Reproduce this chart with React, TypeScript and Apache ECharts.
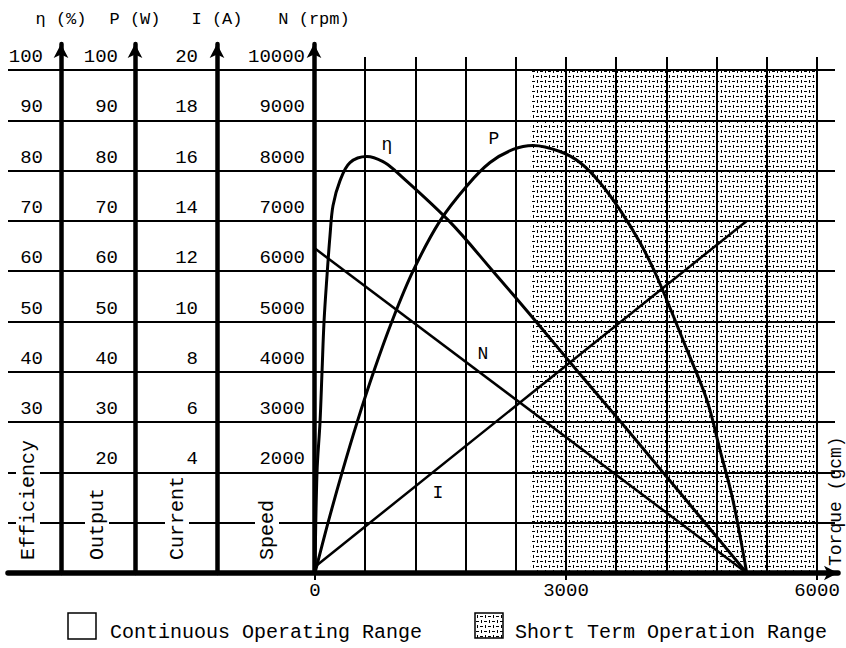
import React, { useEffect, useRef } from "react";
import * as echarts from "echarts";

// ---- data ----
const torqueLabels = [0, 3000, 6000];
const efficiencyLabels = [30, 40, 50, 60, 70, 80, 90, 100];
const outputLabels = [20, 30, 40, 50, 60, 70, 80, 90, 100];
const currentLabels = [4, 6, 8, 10, 12, 14, 16, 18, 20];
const speedLabels = [2000, 3000, 4000, 5000, 6000, 7000, 8000, 9000, 10000];

// torque (gcm), efficiency (%)
const efficiency: [number, number][] = [
  [0, 0], [24, 20], [60, 30], [84, 40], [108, 50], [143, 59], [179, 67],
  [215, 73], [299, 78], [418, 81.6], [621, 82.8], [813, 81.8], [956, 80],
  [1601, 70], [2127, 60], [2641, 50], [3143, 40], [3657, 30], [4159, 20],
  [4661, 10], [5160, 0],
];
// torque (gcm), output (W)
const output: [number, number][] = [
  [0, 0], [156, 10], [324, 20], [504, 30], [701, 40], [919, 50], [1171, 60],
  [1494, 70], [1817, 77], [2092, 81.6], [2367, 84.2], [2606, 85], [2928, 83.8],
  [3167, 81.6], [3406, 77.6], [3645, 72.2], [3884, 65.7], [4087, 58.9],
  [4445, 44.4], [4684, 34.4], [4840, 24.5], [4995, 14.5], [5160, 0],
];
// torque (gcm), current (A)
const current: [number, number][] = [[0, 0.25], [5160, 14]];
// torque (gcm), speed (rpm)
const speed: [number, number][] = [[0, 6450], [5160, 0]];
// short term operation range (gcm)
const shortTermRange = [2580, 6000];

// curve name annotations [torque, value]
const etaLabelAt = [860, 85];
const powerLabelAt = [2139, 86.2];
const speedLabelAt = [2008, 4358];
const currentLabelAt = [1470, 3.2];

const FONT = '"Liberation Mono", "DejaVu Sans Mono", monospace';

function makePattern(): string {
  const c = document.createElement("canvas");
  c.width = 8;
  c.height = 10;
  const ctx = c.getContext("2d")!;
  ctx.fillStyle = "#000";
  // row A: vertical dash, horizontal dash
  ctx.fillRect(1, 0, 1, 3);
  ctx.fillRect(4, 1, 3, 1);
  // row B: horizontal dash, vertical dash
  ctx.fillRect(0, 6, 3, 1);
  ctx.fillRect(5, 5, 1, 3);
  return c.toDataURL();
}

export default function App() {
  const ref = useRef<HTMLDivElement>(null);

  useEffect(() => {
    document.body.style.margin = "0";
    const chart = echarts.init(ref.current!, null, { renderer: "svg" });
    const patternUrl = makePattern();
    const pattern: any = { image: patternUrl, repeat: "repeat", imageWidth: 8, imageHeight: 10 };

    const hidden = {
      axisLine: { show: false, onZero: false },
      axisTick: { show: false },
      axisLabel: { show: false },
      splitLine: { show: false },
    };
    const rule = { show: true, lineStyle: { color: "#000", width: 2 } };
    const tickText = { fontFamily: FONT, fontSize: 19, color: "#000" };
    const plain = (v: number) => String(v);

    const labelAxis = (max: number, interval: number, offset: number, margin: number, values: number[]) => ({
      type: "value",
      gridIndex: 0,
      position: "left",
      offset,
      min: 0,
      max,
      interval,
      axisLine: { show: false, onZero: false },
      axisTick: { show: false },
      splitLine: { show: false },
      axisLabel: {
        customValues: values,
        formatter: plain,
        margin,
        ...tickText,
        verticalAlign: "bottom",
        lineHeight: 26,
      },
    });

    const arrowAxis = (name: string, offset: number) => ({
      type: "value",
      gridIndex: 3,
      position: "left",
      offset,
      min: 0,
      max: 1,
      name,
      nameLocation: "end",
      nameGap: 16,
      nameTextStyle: { fontFamily: FONT, fontSize: 17, color: "#000" },
      axisLine: {
        show: true,
        onZero: false,
        symbol: ["none", "arrow"],
        symbolSize: [11, 14],
        lineStyle: { color: "#000", width: 4.5 },
      },
      axisTick: { show: false },
      axisLabel: { show: false },
      splitLine: { show: false },
    });

    const curveLabel = (text: string, at: number[]) => ({
      silent: true,
      symbol: "circle",
      symbolSize: 0,
      label: { show: true, position: "inside", formatter: text, fontFamily: FONT, fontSize: 18, color: "#000" },
      data: [{ coord: at }],
    });

    const rotated = (text: string, x: number, y: number, size: number) => ({
      type: "text",
      x,
      y,
      rotation: Math.PI / 2,
      z: 100,
      style: {
        text,
        fontFamily: FONT,
        fontSize: size,
        fill: "#000",
        align: "left",
        verticalAlign: "middle",
        backgroundColor: "#fff",
        padding: [2, 2],
      },
    });

    const option: any = {
      animation: false,
      backgroundColor: "#fff",
      grid: [
        { left: 315, right: 29, top: 70, bottom: 75 },
        { left: 8, right: 11, top: 70, bottom: 75 },
        { left: 315, right: 29, top: 57, bottom: 75 },
        { left: 315, right: 29, top: 44, bottom: 75 },
        { left: 8, right: 8, top: 44, bottom: 75 },
      ],
      xAxis: [
        {
          type: "value",
          gridIndex: 0,
          min: 0,
          max: 6000,
          interval: 600,
          axisLine: { show: false, onZero: false },
          axisTick: { show: true, customValues: torqueLabels, length: 7, lineStyle: { color: "#000", width: 2 } },
          axisLabel: { customValues: torqueLabels, formatter: plain, margin: 8, ...tickText },
          splitLine: { show: false },
        },
        { type: "value", gridIndex: 2, min: 0, max: 6000, interval: 600, ...hidden, splitLine: rule },
        { type: "value", gridIndex: 1, min: 0, max: 1, ...hidden },
        { type: "value", gridIndex: 3, min: 0, max: 1, ...hidden },
        {
          type: "value",
          gridIndex: 4,
          min: 0,
          max: 1,
          ...hidden,
          axisLine: {
            show: true,
            onZero: false,
            symbol: ["none", "arrow"],
            symbolSize: [11, 14],
            lineStyle: { color: "#000", width: 5.5 },
          },
        },
      ],
      yAxis: [
        labelAxis(100, 10, 254, 18, efficiencyLabels),
        labelAxis(100, 10, 180, 17, outputLabels),
        labelAxis(20, 2, 98, 19, currentLabels),
        labelAxis(10000, 1000, 0, 10, speedLabels),
        { type: "value", gridIndex: 1, position: "left", min: 0, max: 100, interval: 10, ...hidden, splitLine: rule },
        arrowAxis("η (%)", 254),
        arrowAxis("P (W)", 180),
        arrowAxis("I (A)", 98),
        arrowAxis("N (rpm)", 1),
        { type: "value", gridIndex: 2, position: "left", min: 0, max: 1, ...hidden },
        { type: "value", gridIndex: 4, position: "left", min: 0, max: 1, ...hidden },
      ],
      series: [
        {
          name: "N",
          type: "line",
          xAxisIndex: 0,
          yAxisIndex: 3,
          data: speed,
          symbol: "none",
          lineStyle: { color: "#000", width: 2.5 },
          markArea: {
            silent: true,
            itemStyle: { color: pattern, borderWidth: 0 },
            data: [[{ xAxis: shortTermRange[0] }, { xAxis: shortTermRange[1] }]],
          },
          markPoint: curveLabel("N", speedLabelAt),
        },
        {
          name: "I",
          type: "line",
          xAxisIndex: 0,
          yAxisIndex: 2,
          data: current,
          symbol: "none",
          lineStyle: { color: "#000", width: 2.5 },
          markPoint: curveLabel("I", currentLabelAt),
        },
        {
          name: "η",
          type: "line",
          xAxisIndex: 0,
          yAxisIndex: 0,
          data: efficiency,
          symbol: "none",
          smooth: 0.35,
          lineStyle: { color: "#000", width: 3 },
          markPoint: curveLabel("η", etaLabelAt),
        },
        {
          name: "P",
          type: "line",
          xAxisIndex: 0,
          yAxisIndex: 1,
          data: output,
          symbol: "none",
          smooth: 0.35,
          lineStyle: { color: "#000", width: 3 },
          markPoint: curveLabel("P", powerLabelAt),
        },
      ],
      graphic: [
        rotated("Efficiency", 28, 562, 20),
        rotated("Output", 97, 562, 20),
        rotated("Current", 177, 562, 20),
        rotated("Speed", 267, 562, 20),
        {
          type: "text",
          x: 836,
          y: 566,
          rotation: Math.PI / 2,
          z: 100,
          style: { text: "Torque (gcm)", fontFamily: FONT, fontSize: 18, fill: "#000", align: "left", verticalAlign: "middle" },
        },
        {
          type: "rect",
          z: 100,
          shape: { x: 68, y: 613, width: 28, height: 26 },
          style: { fill: "none", stroke: "#000", lineWidth: 1.5 },
        },
        {
          type: "text",
          x: 110,
          y: 632,
          z: 100,
          style: { text: "Continuous Operating Range", fontFamily: FONT, fontSize: 20, fill: "#000", align: "left", verticalAlign: "middle" },
        },
        {
          type: "rect",
          z: 100,
          shape: { x: 475, y: 613, width: 28, height: 25 },
          style: { fill: pattern, stroke: "#000", lineWidth: 1.5 },
        },
        {
          type: "text",
          x: 515,
          y: 632,
          z: 100,
          style: { text: "Short Term Operation Range", fontFamily: FONT, fontSize: 20, fill: "#000", align: "left", verticalAlign: "middle" },
        },
      ],
    };

    chart.setOption(option);
    return () => chart.dispose();
  }, []);

  return <div ref={ref} style={{ width: 846, height: 648 }} />;
}
